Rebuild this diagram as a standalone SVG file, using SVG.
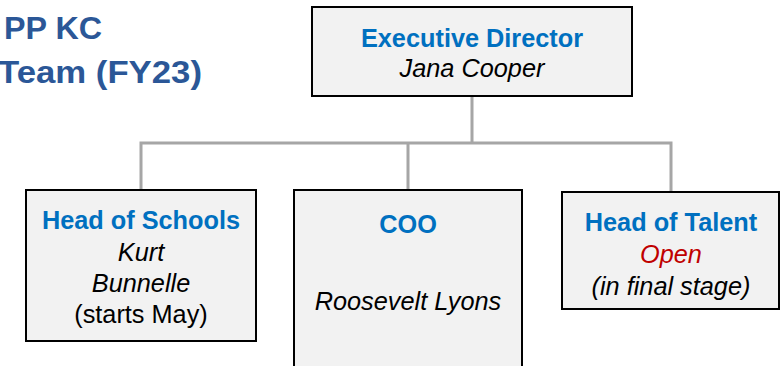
<svg xmlns="http://www.w3.org/2000/svg" width="783" height="366" viewBox="0 0 783 366">
<style>
.box{fill:#F2F2F2;stroke:#000;stroke-width:2}
.conn{fill:none;stroke:#A6A6A6;stroke-width:3}
.t{font-family:"Liberation Sans",Arial,sans-serif;font-size:25.3px;text-anchor:middle}
.h{font-weight:bold;fill:#0070C0}
.n{font-style:italic;fill:#000}
.r{fill:#000}
.open{font-style:italic;fill:#C00000}
.title{font-family:"Liberation Sans",Arial,sans-serif;font-size:32px;font-weight:bold;fill:#2B5797}
</style>
<rect width="783" height="366" fill="#fff"/>
<g id="title">
<text class="title" x="4" y="39" textLength="98" lengthAdjust="spacingAndGlyphs">PP KC</text>
<text class="title" x="-2" y="83" textLength="204" lengthAdjust="spacingAndGlyphs">Team (FY23)</text>
</g>
<g id="connectors">
<path class="conn" d="M472 96V143M141 190V143H671V192M408 143V190"/>
</g>
<g id="exec">
<rect class="box" x="312" y="7" width="320" height="89"/>
<text class="t h" x="472" y="47">Executive Director</text>
<text class="t n" x="472" y="77">Jana Cooper</text>
</g>
<g id="schools">
<rect class="box" x="26" y="190" width="230" height="151"/>
<text class="t h" x="141" y="229">Head of Schools</text>
<text class="t n" x="141" y="261">Kurt</text>
<text class="t n" x="141" y="292">Bunnelle</text>
<text class="t r" x="141" y="323">(starts May)</text>
</g>
<g id="coo">
<rect class="box" x="294" y="190" width="228" height="180"/>
<text class="t h" x="408" y="233">COO</text>
<text class="t n" x="408" y="310">Roosevelt Lyons</text>
</g>
<g id="talent">
<rect class="box" x="562" y="192" width="217" height="117"/>
<text class="t h" x="671" y="231">Head of Talent</text>
<text class="t open" x="671" y="263">Open</text>
<text class="t n" x="671" y="295">(in final stage)</text>
</g>
</svg>
